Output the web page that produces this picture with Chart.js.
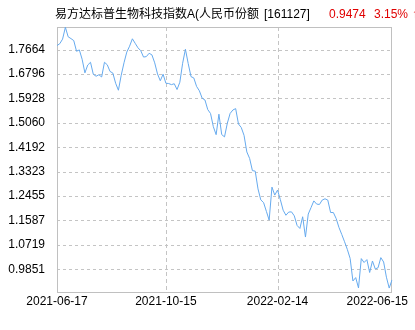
<!DOCTYPE html>
<html lang="zh">
<head>
  <meta charset="UTF-8" />
  <title>易方达标普生物科技指数A</title>
  <style>
    html, body { margin: 0; padding: 0; background: #fff; }
    #wrap { width: 415px; height: 330px; }
  </style>
</head>
<body>
  <div id="wrap"><canvas id="navChart" width="415" height="330"></canvas></div>

  <script src="https://cdn.jsdelivr.net/npm/chart.js"></script>
  <script>
    // 单位净值
    const navValues = [
      1.7806, 1.7874, 1.8037, 1.8456, 1.8119, 1.8055, 1.7984, 1.7604, 1.7653, 1.7320,
      1.6837, 1.7114, 1.7213, 1.6787, 1.6716, 1.6769, 1.6691, 1.7213, 1.7124, 1.6886,
      1.6830, 1.6467, 1.6219, 1.6751, 1.7195, 1.7575, 1.7785, 1.8048, 1.7888, 1.7728,
      1.7625, 1.7398, 1.7415, 1.7533, 1.7476, 1.7192, 1.6798, 1.6556, 1.6787, 1.6467,
      1.6457, 1.6418, 1.6450, 1.6244, 1.6503, 1.7178, 1.7675, 1.7167, 1.6702, 1.6656,
      1.6354, 1.6197, 1.5935, 1.5871, 1.5530, 1.5391, 1.4923, 1.4639, 1.5367, 1.4642,
      1.4560, 1.5040, 1.5391, 1.5516, 1.5565, 1.5019, 1.4894, 1.4614, 1.4024, 1.3793,
      1.3360, 1.3342, 1.2710, 1.2320, 1.2224, 1.1911, 1.1602, 1.2774, 1.2490, 1.2668,
      1.2330, 1.1954, 1.1773, 1.1887, 1.1894, 1.1752, 1.1411, 1.1304, 1.1720, 1.0999,
      1.1816, 1.2046, 1.2284, 1.2171, 1.2156, 1.2313, 1.2359, 1.2313, 1.1872, 1.1869,
      1.1656, 1.1340, 1.1091, 1.0832, 1.0558, 1.0239, 0.9436, 0.9557, 0.9188, 1.0232,
      1.0093, 1.0196, 0.9738, 1.0147, 0.9866, 0.9905, 1.0267, 1.0111, 0.9571, 0.9185,
      0.9474
    ];
    const xTickLabels = ['2021-06-17', '2021-10-15', '2022-02-14', '2022-06-15'];
    const xTickIndex = [0, 39, 79, 120];
    const yTicks = [0.9851, 1.0719, 1.1587, 1.2455, 1.3323, 1.4192, 1.5060, 1.5928, 1.6796, 1.7664];
    const yMin = 0.9009, yMax = 1.8467;

    const fundName = '易方达标普生物科技指数A(人民币份额';
    const fundCode = '[161127]';
    const lastNav = '0.9474';
    const lastChange = '3.15%';

    const FONT = "12px 'Liberation Sans', 'Noto Sans CJK SC', sans-serif";
    const GRID = '#c4c4c4';

    const decor = {
      id: 'decor',
      beforeDatasetsDraw(chart) {
        const { ctx, chartArea: a, scales } = chart;
        ctx.save();
        ctx.strokeStyle = GRID;
        ctx.lineWidth = 1;
        // dashed grid
        ctx.setLineDash([3, 3]);
        ctx.beginPath();
        yTicks.forEach(v => {
          const py = Math.round(scales.y.getPixelForValue(v)) + 0.5;
          ctx.moveTo(a.left, py);
          ctx.lineTo(a.right, py);
        });
        ctx.stroke();
        ctx.setLineDash([4, 3]);
        ctx.beginPath();
        xTickIndex.slice(1, -1).forEach(v => {
          const px = Math.round(scales.x.getPixelForValue(v)) + 0.5;
          ctx.moveTo(px, a.top);
          ctx.lineTo(px, a.bottom);
        });
        ctx.stroke();
        // frame
        ctx.setLineDash([]);
        ctx.strokeStyle = '#c0c0c0';
        ctx.strokeRect(a.left + 0.5, a.top + 0.5, a.right - a.left - 1, a.bottom - a.top - 1);
        ctx.restore();
      },
      afterDraw(chart) {
        const { ctx, chartArea: a } = chart;
        const xs = chart.scales.x;
        ctx.save();
        ctx.font = FONT;
        ctx.textBaseline = 'middle';
        ctx.fillStyle = '#000';
        ctx.fillText(fundName, 55, 15);
        ctx.fillText(fundCode, 264, 15);
        ctx.fillStyle = '#e00000';
        ctx.fillText(lastNav, 329, 15);
        ctx.fillText(lastChange, 374, 15);
        ctx.fillText('↑', 412, 15);

        ctx.fillStyle = '#000';
        ctx.textAlign = 'left';
        xTickLabels.forEach((lab, i) => {
          const px = xs.getPixelForValue(xTickIndex[i]);
          const w = ctx.measureText(lab).width;
          let left = px - w / 2;
          if (left + w > 408) left = 408 - w;
          ctx.fillText(lab, left, a.bottom + 9);
        });
        ctx.restore();
      }
    };

    new Chart(document.getElementById('navChart'), {
      type: 'line',
      data: {
        labels: navValues.map((_, i) => i),
        datasets: [{
          data: navValues,
          borderColor: '#66aaee',
          borderWidth: 1,
          pointRadius: 0,
          tension: 0,
          fill: false
        }]
      },
      options: {
        responsive: false,
        animation: false,
        events: [],
        layout: { padding: { left: 0, top: 27, right: 23, bottom: 0 } },
        plugins: { legend: { display: false }, tooltip: { enabled: false } },
        scales: {
          x: {
            type: 'category',
            offset: false,
            afterBuildTicks: s => { s.ticks = xTickIndex.map(v => ({ value: v })); },
            afterFit: s => { s.height = 37; },
            ticks: { display: false },
            border: { display: false },
            grid: { display: false }
          },
          y: {
            min: yMin,
            max: yMax,
            afterBuildTicks: s => { s.ticks = yTicks.map(v => ({ value: v })); },
            afterFit: s => { s.width = 57; },
            ticks: {
              padding: 4,
              color: '#000',
              font: { family: "'Liberation Sans', sans-serif", size: 12 },
              callback: v => Number(v).toFixed(4)
            },
            border: { display: false },
            grid: { display: false }
          }
        }
      },
      plugins: [decor]
    });
  </script>
</body>
</html>
